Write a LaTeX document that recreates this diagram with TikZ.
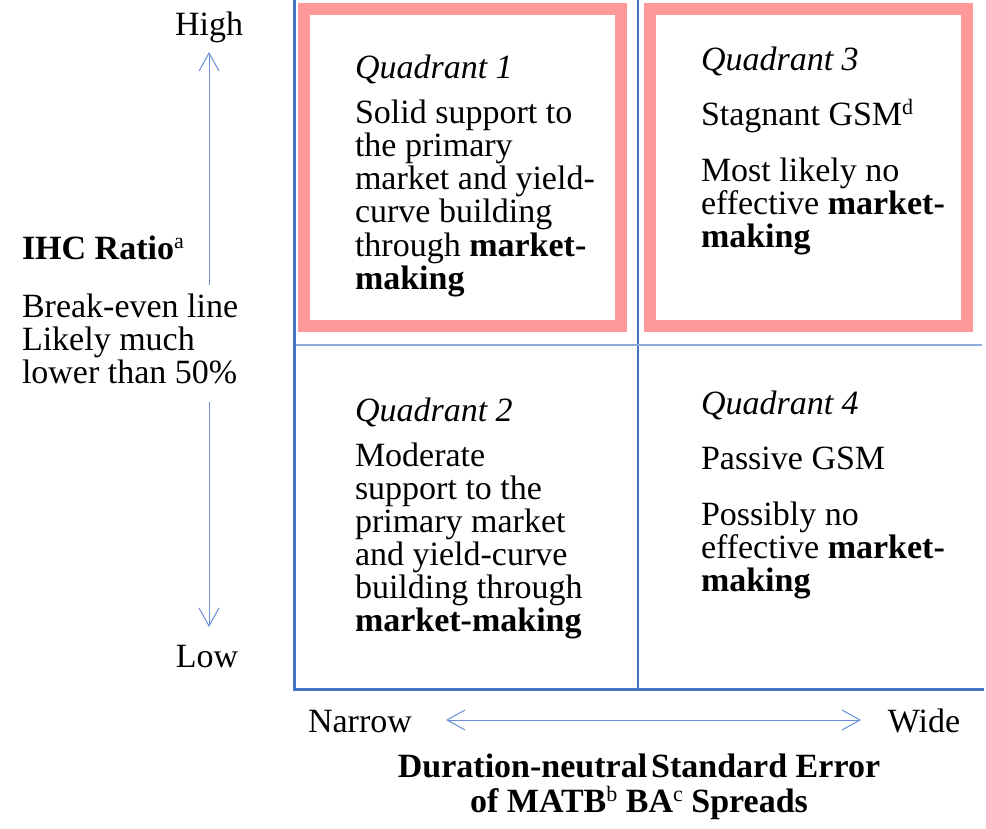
\documentclass[tikz,border=0pt]{standalone}
\usepackage{fontspec}
\setmainfont{Liberation Serif}
\usetikzlibrary{arrows.meta}
\definecolor{axisblue}{HTML}{4472C4}
\definecolor{lightblue}{HTML}{8FAADC}
\definecolor{arrowblue}{HTML}{6A8FD8}
\definecolor{pinkbox}{HTML}{FF9999}
\newcommand\supx[1]{\raisebox{11pt}{\fontsize{22}{22}\selectfont\mdseries #1}}
\begin{document}
\begin{tikzpicture}[x=1pt,y=-1pt,
  txt/.style={inner sep=0pt, outer sep=0pt, anchor=base west, font=\fontsize{34}{33}\selectfont},
  txtc/.style={txt, anchor=base},
  qbox/.style={draw=pinkbox, line width=12pt},
  thinline/.style={draw=axisblue, line width=1.2pt},
  hthin/.style={draw=lightblue, line width=1.6pt},
  axisline/.style={draw=axisblue, line width=3pt, line cap=rect},
  arr/.style={draw=arrowblue, line width=1pt},
  tip/.tip={Straight Barb[length=18pt,width=20pt,line width=1pt]}
]
\useasboundingbox (0,0) rectangle (986,829);
% quadrant highlight boxes
\draw[qbox] (304,9) rectangle (621,326);
\draw[qbox] (650,9) rectangle (967,326);
% thin grid lines
\coordinate (vgt) at (638,0);
\coordinate (vgb) at (638,689);
\coordinate (hgl) at (294,345);
\coordinate (hgr) at (982,345);
\draw[thinline] (vgt) -- (vgb);
\draw[hthin] (hgl) -- (hgr);
% axes
\coordinate (axtop) at (294,0);
\coordinate (axorig) at (294,689);
\coordinate (axright) at (982,689);
\draw[axisline] (axtop) -- (axorig) -- (axright);
% vertical arrow
\coordinate (va1) at (209,52);
\coordinate (va2) at (209,285);
\coordinate (va3) at (209,402);
\coordinate (va4) at (209,627);
\draw[arr,{tip}-] (va1) -- (va2);
\draw[arr,-{tip}] (va3) -- (va4);
% horizontal arrow
\coordinate (ha1) at (446,720);
\coordinate (ha2) at (861,720);
\draw[arr,{tip}-{tip}] (ha1) -- (ha2);
% left labels
\node[txtc] (high) at (209,36) {High};
\node[txtc] (low) at (207,667) {Low};
\node[txt] (ihc) at (22,260) {\textbf{IHC Ratio}\supx{a}};
\node[txt] (brk1) at (22,318) {Break-even line};
\node[txt] (brk2) at (22,350) {Likely much};
\node[txt] (brk3) at (22,383) {lower than 50\%};
% bottom labels
\node[txtc] (narrow) at (360,732) {Narrow};
\node[txtc] (wide) at (924,732) {Wide};
\node[txtc] (xl1) at (639,777) {\textbf{Duration-neutral\hspace{4pt}Standard Error}};
\node[txtc] (xl2) at (639,812) {\textbf{of MATB\supx{b} BA\supx{c} Spreads}};
% Quadrant 1
\node[txt] (q1h) at (355,79) {\textit{Quadrant 1}};
\node[txt] (q1a) at (355,124) {Solid support to};
\node[txt] (q1b) at (355,157) {the primary};
\node[txt] (q1c) at (355,190) {market and yield-};
\node[txt] (q1d) at (355,223) {curve building};
\node[txt] (q1e) at (355,257) {through \textbf{market-}};
\node[txt] (q1f) at (355,290) {\textbf{making}};
% Quadrant 3
\node[txt] (q3h) at (701,71) {\textit{Quadrant 3}};
\node[txt] (q3a) at (701,126) {Stagnant GSM\supx{d}};
\node[txt] (q3b) at (701,182) {Most likely no};
\node[txt] (q3c) at (701,215) {effective \textbf{market-}};
\node[txt] (q3d) at (701,248) {\textbf{making}};
% Quadrant 2
\node[txt] (q2h) at (355,421) {\textit{Quadrant 2}};
\node[txt] (q2a) at (355,466) {Moderate};
\node[txt] (q2b) at (355,499) {support to the};
\node[txt] (q2c) at (355,532) {primary market};
\node[txt] (q2d) at (355,565) {and yield-curve};
\node[txt] (q2e) at (355,598) {building through};
\node[txt] (q2f) at (355,631) {\textbf{market-making}};
% Quadrant 4
\node[txt] (q4h) at (701,414) {\textit{Quadrant 4}};
\node[txt] (q4a) at (701,469) {Passive GSM};
\node[txt] (q4b) at (701,525) {Possibly no};
\node[txt] (q4c) at (701,558) {effective \textbf{market-}};
\node[txt] (q4d) at (701,591) {\textbf{making}};
\end{tikzpicture}
\end{document}
